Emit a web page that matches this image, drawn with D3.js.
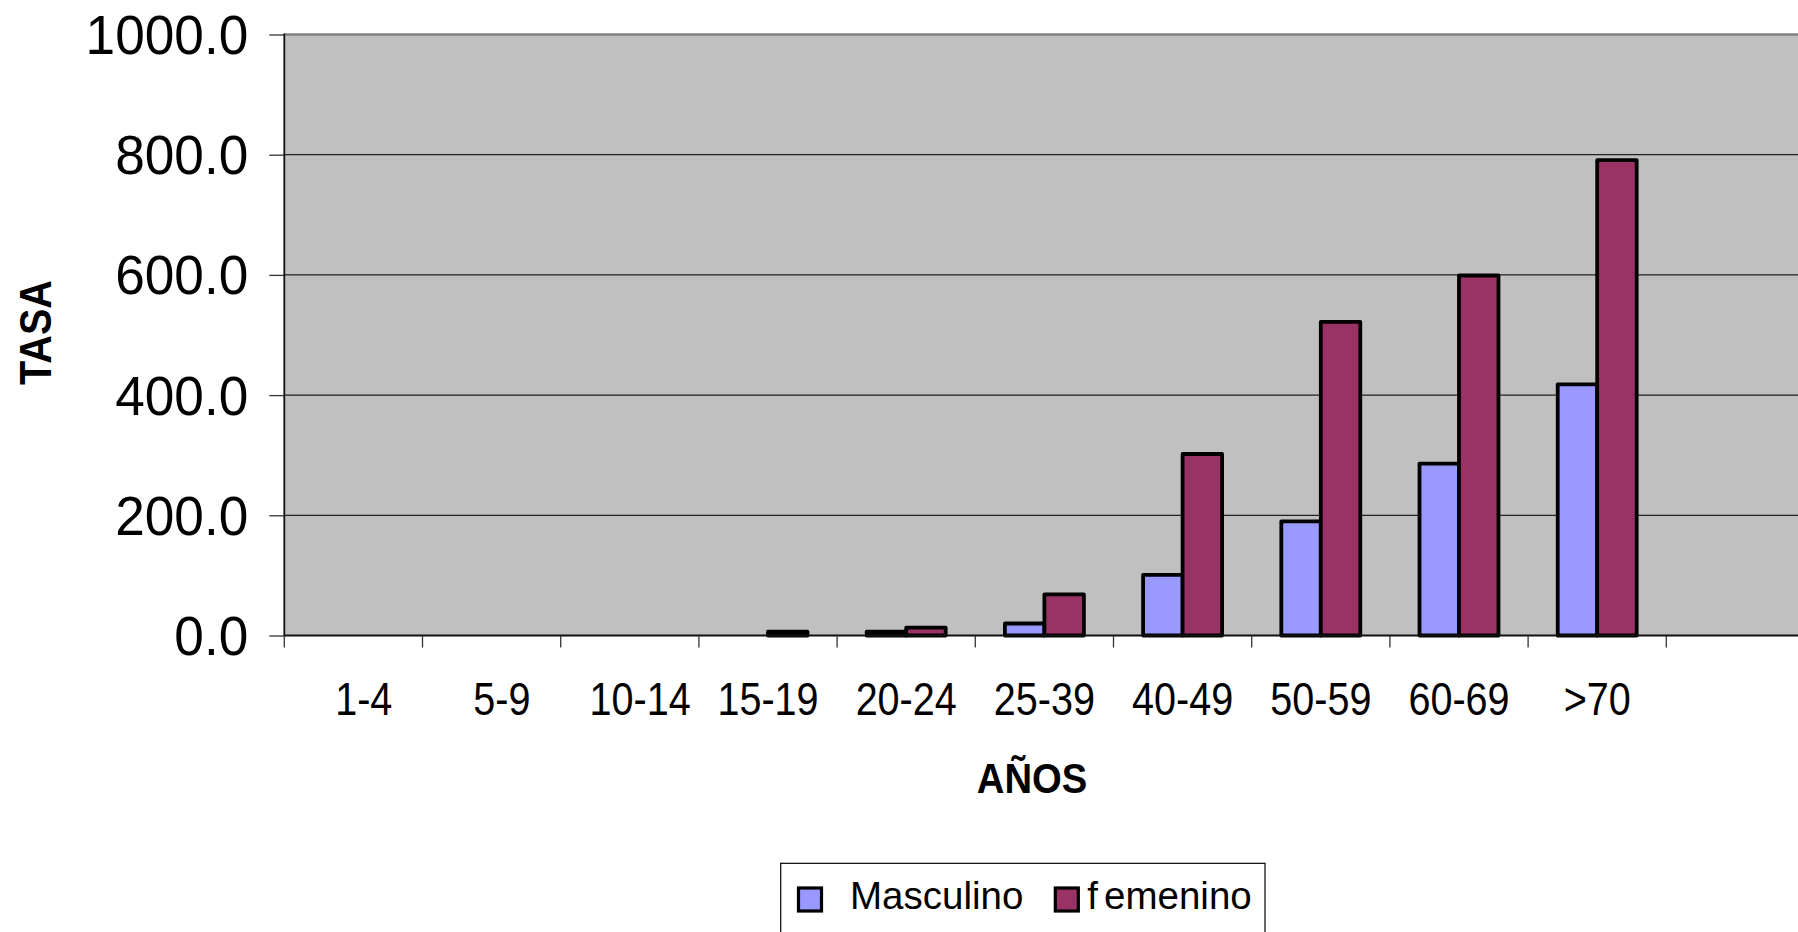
<!DOCTYPE html>
<html>
<head>
<meta charset="utf-8">
<script src="https://cdn.jsdelivr.net/npm/d3@7"></script>
<style>
  body { margin: 0; background: #fff; }
  svg { display: block; font-family: "Liberation Sans", Arial, sans-serif; }
</style>
</head>
<body>
<svg id="chart" width="1798" height="932"></svg>
<script>
// age groups and rates
var grupos = ["1-4", "5-9", "10-14", "15-19", "20-24", "25-39", "40-49", "50-59", "60-69", ">70"];
var masculino = [0, 0, 0, 0, 6.5, 20, 101, 190, 286, 418];
var femenino  = [0, 0, 0, 6.5, 13, 68.5, 302, 522, 599, 791];
var series = ["Masculino", "femenino"];
var colores = ["#9999ff", "#993366"];
var yTicks = [0, 200, 400, 600, 800, 1000];

var svg = d3.select("#chart");
var W = 1798, H = 932;
var plotL = 284.3, plotT = 34.5, plotB = 635.5, step = 138.2;

var x = d3.scaleBand().domain(grupos).range([plotL, plotL + step * grupos.length]);
var x1 = d3.scaleBand().domain(series).range([0, x.bandwidth()]).paddingInner(0).paddingOuter(0.75);
var y = d3.scaleLinear().domain([0, 1000]).range([plotB, plotT]);

var rows = grupos.map(function(g, i){
    return {grupo: g, vals: [masculino[i], femenino[i]]};
});

// plot area
svg.append("rect")
    .attr("x", plotL).attr("y", plotT)
    .attr("width", W - plotL + 10).attr("height", plotB - plotT)
    .attr("fill", "#c0c0c0");
svg.append("line")
    .attr("x1", plotL).attr("x2", W).attr("y1", plotT).attr("y2", plotT)
    .attr("stroke", "#808080").attr("stroke-width", 2.5);

// gridlines
svg.append("g").selectAll("line")
    .data(yTicks.filter(function(d){ return d > 0 && d < 1000; }))
    .enter().append("line")
    .attr("x1", plotL).attr("x2", W)
    .attr("y1", function(d){ return y(d); }).attr("y2", function(d){ return y(d); })
    .attr("stroke", "#222").attr("stroke-width", 1.2);

// y axis
var yAxis = svg.append("g")
    .attr("transform", "translate(" + plotL + ",0)")
    .call(d3.axisLeft(y).tickValues(yTicks).tickFormat(d3.format(".1f")).tickSize(15).tickPadding(21));
yAxis.select(".domain").remove();
yAxis.selectAll(".tick line").attr("stroke", "#333").attr("stroke-width", 1.3);
yAxis.selectAll(".tick text")
    .attr("fill", "#000")
    .style("font-size", "56px")
    .attr("dy", "0.34em")
    .attr("x", -36 / 0.95)
    .attr("transform", "scale(0.95,1)");
svg.append("line")
    .attr("x1", plotL).attr("x2", plotL).attr("y1", plotT - 1).attr("y2", plotB + 1)
    .attr("stroke", "#111").attr("stroke-width", 1.8);

// bars
var grp = svg.append("g").selectAll("g")
    .data(rows)
    .enter().append("g")
    .attr("transform", function(d){ return "translate(" + x(d.grupo) + ",0)"; });

grp.selectAll("rect")
    .data(function(d){
        return d.vals.map(function(v, i){ return {serie: series[i], v: v, c: colores[i]}; })
            .filter(function(e){ return e.v > 0; });
    })
    .enter().append("rect")
    .attr("x", function(d){ return x1(d.serie); })
    .attr("y", function(d){ return y(d.v); })
    .attr("width", x1.bandwidth())
    .attr("height", function(d){ return plotB - y(d.v); })
    .attr("fill", function(d){ return d.c; })
    .attr("stroke", "#000")
    .attr("stroke-width", 3.8)
    .attr("stroke-linejoin", "round");

// x axis
svg.append("line")
    .attr("x1", plotL).attr("x2", W).attr("y1", plotB).attr("y2", plotB)
    .attr("stroke", "#111").attr("stroke-width", 2);
svg.append("g").selectAll("line")
    .data(d3.range(grupos.length + 2))
    .enter().append("line")
    .attr("x1", function(i){ return plotL + i * x.step(); })
    .attr("x2", function(i){ return plotL + i * x.step(); })
    .attr("y1", plotB).attr("y2", plotB + 12)
    .attr("stroke", "#333").attr("stroke-width", 1.3);

var xAxis = svg.append("g")
    .attr("transform", "translate(0," + plotB + ")")
    .call(d3.axisBottom(x).tickSize(0).tickPadding(0));
xAxis.select(".domain").remove();
xAxis.selectAll(".tick text")
    .attr("fill", "#000")
    .style("font-size", "46px")
    .attr("dy", null)
    .attr("y", 79.5)
    // the first short labels sit a little right of centre in the original
    .attr("x", function(d, i){ return i < 3 ? 12 : 0; })
    .attr("transform", "scale(0.86,1)");

// axis titles
svg.append("text")
    .attr("transform", "translate(1032,793) scale(0.91,1)")
    .attr("text-anchor", "middle")
    .style("font-size", "42px").style("font-weight", "bold")
    .text("AÑOS");
svg.append("text")
    .attr("transform", "translate(50.5,332.5) rotate(-90) scale(0.88,1)")
    .attr("text-anchor", "middle")
    .style("font-size", "45px").style("font-weight", "bold")
    .text("TASA");

// legend
var leg = svg.append("g");
leg.append("rect")
    .attr("x", 780.7).attr("y", 863.3)
    .attr("width", 484.3).attr("height", 120)
    .attr("fill", "#fff").attr("stroke", "#000").attr("stroke-width", 1.2);

var sx = 798.5;
series.forEach(function(s, i){
    var off = i === 0 ? 51.5 : 32;
    leg.append("rect")
        .attr("x", sx).attr("y", 888)
        .attr("width", 23).attr("height", 23)
        .attr("fill", colores[i]).attr("stroke", "#000").attr("stroke-width", 3.2);
    var t = leg.append("text")
        .attr("x", sx + off)
        .attr("y", 909)
        .style("font-size", "38.5px");
    if (i === 1) {
        // original shows a loose gap after the first letter
        t.append("tspan").text(s.charAt(0));
        t.append("tspan").attr("dx", 6).text(s.slice(1));
    } else {
        t.text(s);
    }
    sx = sx + off + t.node().getComputedTextLength() + 32;
});
</script>
</body>
</html>
